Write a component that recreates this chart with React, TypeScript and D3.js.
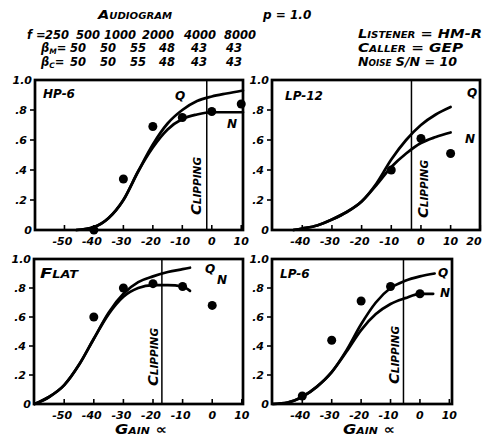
import React from "react";
import * as d3 from "d3";

// ---------- data ----------
const frequencies = [250, 500, 1000, 2000, 4000, 8000];
const betaM = [50, 50, 55, 48, 43, 43];
const betaC = [50, 50, 55, 48, 43, 43];
const yTickValues = [0, 0.2, 0.4, 0.6, 0.8, 1.0];
const yTickLabels = ["0", ".2", ".4", ".6", ".8", "1.0"];

const hp6Ticks = [-50, -40, -30, -20, -10, 0, 10];
const lp12Ticks = [-40, -30, -20, -10, 0, 10, 20];
const flatTicks = [-50, -40, -30, -20, -10, 0, 10];
const lp6Ticks = [-40, -30, -20, -10, 0, 10];

const hp6Points: [number, number][] = [[-40, 0], [-30, 0.34], [-20, 0.69], [-10, 0.75], [0, 0.79], [10, 0.84]];
const hp6Q: [number, number][] = [[-46, 0], [-40, 0.02], [-35, 0.08], [-30, 0.2], [-25, 0.39], [-20, 0.57], [-15, 0.71], [-10, 0.8], [-5, 0.86], [0, 0.89], [5, 0.91], [10.6, 0.93]];
const hp6N: [number, number][] = [[-46, 0], [-40, 0.02], [-35, 0.08], [-30, 0.2], [-25, 0.39], [-20, 0.55], [-15, 0.67], [-10, 0.74], [-5, 0.77], [0, 0.785], [5, 0.785], [10.6, 0.785]];

const lp12Points: [number, number][] = [[-10, 0.4], [0, 0.61], [10, 0.51]];
const lp12Q: [number, number][] = [[-43, 0], [-40, 0.01], [-35, 0.03], [-30, 0.07], [-25, 0.12], [-20, 0.19], [-15, 0.31], [-10, 0.47], [-5, 0.6], [0, 0.7], [5, 0.77], [10, 0.82]];
const lp12N: [number, number][] = [[-43, 0], [-40, 0.01], [-35, 0.03], [-30, 0.07], [-25, 0.12], [-20, 0.19], [-15, 0.3], [-10, 0.42], [-5, 0.51], [0, 0.58], [5, 0.62], [10, 0.65]];

const flatPoints: [number, number][] = [[-40, 0.6], [-30, 0.8], [-20, 0.83], [-10, 0.81], [0, 0.68]];
const flatQ: [number, number][] = [[-60, 0], [-55, 0.05], [-50, 0.13], [-45, 0.27], [-40, 0.45], [-35, 0.63], [-30, 0.76], [-25, 0.84], [-20, 0.88], [-15, 0.91], [-10, 0.93], [-7.5, 0.94]];
const flatN: [number, number][] = [[-60, 0], [-55, 0.05], [-50, 0.13], [-45, 0.27], [-40, 0.45], [-35, 0.62], [-30, 0.74], [-25, 0.8], [-20, 0.82], [-15, 0.82], [-10, 0.81], [-7.5, 0.78]];

const lp6Points: [number, number][] = [[-40, 0.055], [-30, 0.44], [-20, 0.71], [-10, 0.81], [0, 0.76]];
const lp6Q: [number, number][] = [[-50, 0], [-45, 0.01], [-40, 0.05], [-35, 0.12], [-30, 0.22], [-25, 0.37], [-20, 0.55], [-15, 0.7], [-10, 0.8], [-5, 0.85], [0, 0.88], [5, 0.9]];
const lp6N: [number, number][] = [[-50, 0], [-45, 0.01], [-40, 0.05], [-35, 0.12], [-30, 0.22], [-25, 0.36], [-20, 0.51], [-15, 0.62], [-10, 0.69], [-5, 0.73], [0, 0.76], [4.5, 0.76]];

const clipGains = [-1.7, -3.2, -17, -5.6];

// ---------- layout ----------
const FONT = "'DejaVu Sans', sans-serif";
const INK = "#000";

type Panel = {
  name: string;
  smallCaps?: boolean;
  nameLen?: number;
  x0: number; x1: number; y0: number; y1: number;
  domain: [number, number];
  ticks: number[];
  points: [number, number][];
  q: [number, number][];
  n: [number, number][];
  clip: number;
  clipLabel: { x: number; y: number };
  nameAt: [number, number];
  qAt: [number, number];
  nAt: [number, number];
  gainLabel?: [number, number];
};

const panels: Panel[] = [
  {
    name: "HP-6", x0: 35, x1: 243, y0: 80, y1: 230, domain: [-60, 10.6], ticks: hp6Ticks,
    points: hp6Points, q: hp6Q, n: hp6N, clip: clipGains[0],
    clipLabel: { x: 201, y: 186 }, nameAt: [43, 98], qAt: [175, 100], nAt: [227, 128],
  },
  {
    name: "LP-12", x0: 272, x1: 480, y0: 80, y1: 230, domain: [-50.2, 19.9], ticks: lp12Ticks,
    points: lp12Points, q: lp12Q, n: lp12N, clip: clipGains[1],
    clipLabel: { x: 428, y: 189 }, nameAt: [285, 100], qAt: [467, 97], nAt: [465, 143],
  },
  {
    name: "Flat", smallCaps: true, nameLen: 38, x0: 34, x1: 243, y0: 259, y1: 404, domain: [-60.2, 10.4], ticks: flatTicks,
    points: flatPoints, q: flatQ, n: flatN, clip: clipGains[2],
    clipLabel: { x: 158, y: 357 }, nameAt: [40, 278], qAt: [205, 273], nAt: [217, 284],
    gainLabel: [115, 434],
  },
  {
    name: "LP-6", x0: 272, x1: 452, y0: 259, y1: 404, domain: [-50.3, 10.9], ticks: lp6Ticks,
    points: lp6Points, q: lp6Q, n: lp6N, clip: clipGains[3],
    clipLabel: { x: 399, y: 355 }, nameAt: [280, 278], qAt: [438, 277], nAt: [440, 297],
    gainLabel: [343, 434],
  },
];

const txt: React.CSSProperties = {
  fontFamily: FONT,
  fontStyle: "italic",
  fontWeight: "bold",
};

function PanelView({ p }: { p: Panel }) {
  const x = d3.scaleLinear().domain(p.domain).range([p.x0, p.x1]);
  const y = d3.scaleLinear().domain([0, 1]).range([p.y1, p.y0]);
  const line = d3
    .line<[number, number]>()
    .x((d) => x(d[0]))
    .y((d) => y(d[1]))
    .curve(d3.curveMonotoneX);
  const cx = x(p.clip);
  return (
    <g>
      {/* curves */}
      <path d={line(p.q) || ""} fill="none" stroke={INK} strokeWidth={2.7} strokeLinecap="round" />
      <path d={line(p.n) || ""} fill="none" stroke={INK} strokeWidth={2.7} strokeLinecap="round" />
      {/* clipping line */}
      <line x1={cx} x2={cx} y1={p.y0} y2={p.y1} stroke={INK} strokeWidth={1.5} />
      <text
        transform={`translate(${p.clipLabel.x},${p.clipLabel.y}) rotate(-90)`}
        textAnchor="middle"
        fontSize={14}
        textLength={58}
        lengthAdjust="spacingAndGlyphs"
        style={{ ...txt, fontVariant: "small-caps" }}
      >
        Clipping
      </text>
      {/* data points */}
      {p.points.map((d, i) => (
        <circle key={i} cx={x(d[0])} cy={y(d[1])} r={4.5} fill={INK} />
      ))}
      {/* frame */}
      <rect x={p.x0} y={p.y0} width={p.x1 - p.x0} height={p.y1 - p.y0} fill="none" stroke={INK} strokeWidth={2.7} />
      {/* x ticks */}
      {p.ticks.map((t) => {
        const lx = Math.min(x(t) - (t < 0 ? 2 : 0), 474);
        return (
          <g key={t}>
            <line x1={x(t)} x2={x(t)} y1={p.y1} y2={p.y1 - 5} stroke={INK} strokeWidth={1.6} />
            <text x={lx} y={p.y1 + 15} textAnchor="middle" fontSize={11} style={txt}>
              {t < 0 ? `-${-t}` : `${t}`}
            </text>
          </g>
        );
      })}
      {/* y ticks */}
      {yTickValues.map((v, i) => {
        const inner = v > 0.01 && v < 0.99;
        return (
          <g key={v}>
            {inner && <line x1={p.x0} x2={p.x0 - 5} y1={y(v)} y2={y(v)} stroke={INK} strokeWidth={1.6} />}
            <text
              x={p.x0 - (inner ? 8 : 3)}
              y={y(v) + 4}
              textAnchor="end"
              fontSize={11}
              style={txt}
            >
              {yTickLabels[i]}
            </text>
          </g>
        );
      })}
      {/* labels */}
      <text
        x={p.nameAt[0]}
        y={p.nameAt[1]}
        fontSize={p.smallCaps ? 14 : 12}
        textLength={p.nameLen}
        lengthAdjust={p.nameLen ? "spacingAndGlyphs" : undefined}
        style={{ ...txt, fontVariant: p.smallCaps ? "small-caps" : "normal" }}
      >
        {p.name}
      </text>
      <text x={p.qAt[0]} y={p.qAt[1]} fontSize={12} style={txt}>Q</text>
      <text x={p.nAt[0]} y={p.nAt[1]} fontSize={12} style={txt}>N</text>
      {p.gainLabel && (
        <text
          x={p.gainLabel[0]}
          y={p.gainLabel[1]}
          fontSize={13.5}
          textLength={52}
          lengthAdjust="spacingAndGlyphs"
          style={{ ...txt, fontVariant: "small-caps" }}
        >
          Gain ∝
        </text>
      )}
    </g>
  );
}

const freqCols = [57, 88, 120, 158, 200, 240];
const betaCols = [78, 108, 138, 167, 199, 234];

export default function App() {
  return (
    <svg
      width={485}
      height={436}
      viewBox="0 0 485 436"
      style={{ position: "absolute", left: 0, top: 0, background: "#fff" }}
    >
      <rect x={0} y={0} width={485} height={436} fill="#fff" />
      {/* header */}
      <text x={98} y={19} fontSize={13} textLength={74} lengthAdjust="spacingAndGlyphs" style={{ ...txt, fontVariant: "small-caps" }}>
        Audiogram
      </text>
      <text x={263} y={19} fontSize={12} style={txt}>p = 1.0</text>

      <text x={27} y={39} fontSize={11.5} style={txt}>f =</text>
      {frequencies.map((f, i) => (
        <text key={f} x={freqCols[i]} y={39} textAnchor="middle" fontSize={11.5} style={txt}>{f}</text>
      ))}
      <text x={41} y={52} fontSize={11.5} style={txt}>
        β<tspan fontSize={7.5} dy={2}>M</tspan><tspan dy={-2}>=</tspan>
      </text>
      {betaM.map((v, i) => (
        <text key={i} x={betaCols[i]} y={52} textAnchor="middle" fontSize={11.5} style={txt}>{v}</text>
      ))}
      <text x={41} y={66} fontSize={11.5} style={txt}>
        β<tspan fontSize={7.5} dy={2}>C</tspan><tspan dy={-2}>=</tspan>
      </text>
      {betaC.map((v, i) => (
        <text key={i} x={betaCols[i]} y={66} textAnchor="middle" fontSize={11.5} style={txt}>{v}</text>
      ))}

      <text x={358} y={38} fontSize={13} textLength={124} lengthAdjust="spacingAndGlyphs" style={{ ...txt, fontVariant: "small-caps" }}>
        Listener = HM-R
      </text>
      <text x={358} y={52} fontSize={13} textLength={105} lengthAdjust="spacingAndGlyphs" style={{ ...txt, fontVariant: "small-caps" }}>
        Caller = GEP
      </text>
      <text x={358} y={66} fontSize={13} textLength={99} lengthAdjust="spacingAndGlyphs" style={{ ...txt, fontVariant: "small-caps" }}>
        Noise S/N = 10
      </text>

      {panels.map((p) => (
        <PanelView key={p.name} p={p} />
      ))}
    </svg>
  );
}
